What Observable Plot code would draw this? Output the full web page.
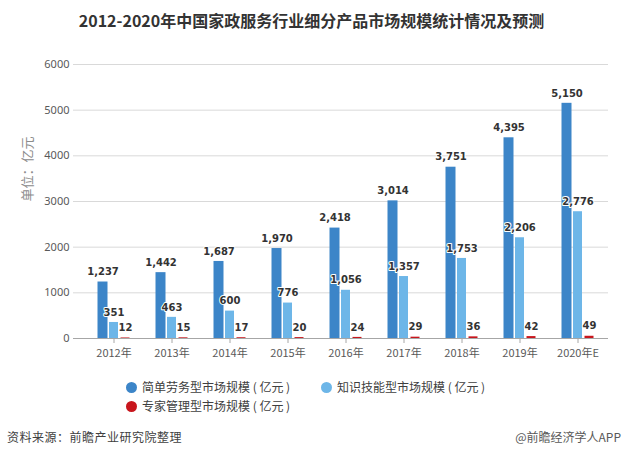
<!DOCTYPE html>
<html>
<head>
<meta charset="utf-8">
<script src="https://cdn.jsdelivr.net/npm/d3@7"></script>
<script src="https://cdn.jsdelivr.net/npm/@observablehq/plot@0.6"></script>
<style>
  body { margin: 0; background: #fff; }
  #wrap { position: relative; width: 623px; height: 461px; overflow: hidden; font-family: "Noto Sans CJK SC", "Noto Sans", sans-serif; }
  #title { position: absolute; left: 0; width: 623px; top: 9px; text-align: center; font-size: 16px; font-weight: bold; color: #333; line-height: 22px; }
  #chart { position: absolute; left: 0; top: 40px; }
  .lg { position: absolute; display: flex; align-items: center; font-size: 12px; color: #404040; line-height: 16px; white-space: nowrap; }
  .lg span.dot { display: inline-block; flex: none; width: 11px; height: 11px; border-radius: 50%; margin-right: 5px; }
  .cap { position: absolute; font-size: 12px; color: #404040; line-height: 16px; white-space: nowrap; }
</style>
</head>
<body>
<div id="wrap">
  <div id="title"></div>
  <div id="chart"></div>
  <div id="legend"></div>
  <div class="cap" id="capL" style="left:7px; top:429px; letter-spacing:0.5px;"></div>
  <div class="cap" id="capR" style="right:2px; top:429px; color:#595959;"></div>
</div>
<script>
const titleText = "2012-2020年中国家政服务行业细分产品市场规模统计情况及预测";
const categories = ["2012年", "2013年", "2014年", "2015年", "2016年", "2017年", "2018年", "2019年", "2020年E"];
const seriesNames = ["简单劳务型市场规模 ( 亿元 )", "知识技能型市场规模 ( 亿元 )", "专家管理型市场规模 ( 亿元 )"];
const simpleLabor = [1237, 1442, 1687, 1970, 2418, 3014, 3751, 4395, 5150];
const knowledgeSkill = [351, 463, 600, 776, 1056, 1357, 1753, 2206, 2776];
const expertMgmt = [12, 15, 17, 20, 24, 29, 36, 42, 49];
const yTicks = [0, 1000, 2000, 3000, 4000, 5000, 6000];
const colors = ["#3c85c8", "#6db6e8", "#c8161d"];
const yLabel = "单位：亿元";
const sourceText = "资料来源：前瞻产业研究院整理";
const brandText = "@前瞻经济学人APP";

document.getElementById("title").textContent = titleText;
document.getElementById("capL").textContent = sourceText;
document.getElementById("capR").textContent = brandText;

const seriesValues = [simpleLabor, knowledgeSkill, expertMgmt];
const rows = [];
seriesValues.forEach((vals, s) => vals.forEach((v, i) => rows.push({cat: categories[i], series: seriesNames[s], s, value: v})));

// per-series placement within each category band (band width ~35px)
const insets = [[1.5, 23.5], [13, 13], [24.5, 1.5]];
const labelDx = [-11, 0, 11.5];

const fmt = d3.format(",");
const marks = [
  Plot.ruleY(yTicks.filter(d => d > 0), {stroke: "#d9d9d9", strokeWidth: 1}),
  Plot.axisY({ticks: yTicks, tickSize: 0, tickPadding: 4, tickFormat: d3.format("d"), fill: "#595959", fontSize: 11, label: null, fontFamily: "Noto Sans, sans-serif"}),
  Plot.axisX({tickSize: 5, tickPadding: 6, stroke: "#a6a6a6", fill: "#595959", fontSize: 11, label: null, fontFamily: "Noto Sans CJK SC, sans-serif"}),
];
seriesNames.forEach((name, s) => {
  const data = rows.filter(r => r.s === s);
  marks.push(Plot.barY(data, {x: "cat", y: "value", fill: colors[s], insetLeft: insets[s][0], insetRight: insets[s][1]}));
});
marks.push(Plot.ruleY([0], {stroke: "#a6a6a6"}));
seriesNames.forEach((name, s) => {
  const data = rows.filter(r => r.s === s);
  marks.push(Plot.text(data, {x: "cat", y: "value", text: d => fmt(d.value), dx: labelDx[s], dy: -10, lineAnchor: "middle", fontWeight: "bold", fontFamily: "DejaVu Sans, sans-serif", fontSize: 10, fill: "#333", stroke: "white", strokeWidth: 2}));
});
marks.push(Plot.text([yLabel], {frameAnchor: "left", dx: -46, rotate: -90, fill: "#8c8c8c", fontSize: 13, fontFamily: "Noto Sans CJK SC, sans-serif"}));

const chart = Plot.plot({
  width: 623,
  height: 330,
  marginLeft: 73,
  marginRight: 15,
  marginTop: 24,
  marginBottom: 32,
  style: {background: "transparent", overflow: "visible"},
  x: {domain: categories, range: [71, 620], padding: 0.4},
  y: {domain: [0, 6000]},
  marks
});
document.getElementById("chart").appendChild(chart);

// legend
const legendPos = [[126, 379], [321, 379], [126, 398]];
const legend = d3.select("#legend");
seriesNames.forEach((name, s) => {
  const item = legend.append("div").attr("class", "lg").style("left", legendPos[s][0] + "px").style("top", legendPos[s][1] + "px");
  item.append("span").attr("class", "dot").style("background", colors[s]);
  item.append("span").text(name);
});
</script>
</body>
</html>
